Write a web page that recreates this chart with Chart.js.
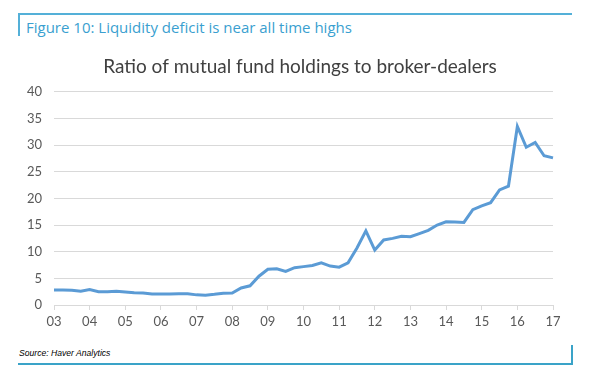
<!DOCTYPE html>
<html>
<head>
<meta charset="utf-8">
<script src="https://cdn.jsdelivr.net/npm/chart.js@4"></script>
<style>
  body { margin: 0; background: #fff; }
  #page { position: relative; width: 595px; height: 381px; overflow: hidden; background: #fff; }
  #caption { position: absolute; left: 18px; top: 13px; width: 554px; height: 23px;
    border-top: 2px solid #54b0d8; border-left: 2px solid #54b0d8; box-sizing: border-box; }
  #caption span { position: absolute; left: 6px; top: 2px; font: 15px "Open Sans", Arial, sans-serif; color: #3a9fd0; white-space: nowrap; }
  #source { position: absolute; left: 18px; top: 345px; width: 555px; height: 20px;
    border-bottom: 2px solid #3aa3c8; border-right: 2px solid #3aa3c8; box-sizing: border-box; }
  #source span { position: absolute; left: 1px; top: 3px; font: italic 8.6px "Liberation Sans", Arial, sans-serif; color: #000; white-space: nowrap; }
  #wrap { position: absolute; left: 0; top: 40px; width: 595px; height: 300px; }
</style>
</head>
<body>
<div id="page">
  <div id="caption"><span>Figure 10: Liquidity deficit is near all time highs</span></div>
  <div id="wrap"><canvas id="grafica"></canvas></div>
  <div id="source"><span>Source: Haver Analytics</span></div>
</div>
<script>
// years on the axis (2003 .. 2017), quarterly observations
const years = ['03', '04', '05', '06', '07', '08', '09', '10', '11', '12', '13', '14', '15', '16', '17'];
const ratio = [
  2.8, 2.8, 2.75, 2.6,
  2.9, 2.5, 2.5, 2.6,
  2.45, 2.3, 2.25, 2.05,
  2.05, 2.05, 2.1, 2.1,
  1.9, 1.85, 2.0, 2.2,
  2.25, 3.2, 3.6, 5.4,
  6.7, 6.8, 6.3, 7.0,
  7.2, 7.4, 7.9, 7.3,
  7.1, 7.9, 10.7, 13.9,
  10.3, 12.2, 12.5, 12.9,
  12.8, 13.4, 14.0, 15.0,
  15.6, 15.55, 15.5, 17.9,
  18.6, 19.2, 21.6, 22.3,
  33.5, 29.6, 30.5, 28.0,
  27.6
];
const yTicks = [0, 5, 10, 15, 20, 25, 30, 35, 40];

let labels = [];
years.forEach((y, i) => {
  const q = i === years.length - 1 ? 1 : 4;
  for (let k = 1; k <= q; k++) labels.push(y + ' Q' + k);
});

const fontFam = 'Lato, "Open Sans", sans-serif';

let ctx = document.getElementById('grafica').getContext('2d');
let grafica = new Chart(ctx, {
  type: 'line',
  data: {
    labels: labels,
    datasets: [{
      label: 'Ratio',
      data: ratio,
      borderColor: '#5b9bd5',
      borderWidth: 3,
      pointRadius: 0,
      tension: 0,
      fill: false
    }]
  },
  options: {
    responsive: true,
    maintainAspectRatio: false,
    animation: false,
    layout: { padding: { left: 5, right: 0, top: 0, bottom: 0 } },
    plugins: {
      legend: { display: false },
      tooltip: { enabled: false },
      title: {
        display: true,
        text: 'Ratio of mutual fund holdings to broker-dealers',
        color: '#404040',
        font: { family: fontFam, size: 19, weight: 'normal' },
        padding: { top: 15, bottom: 14 }
      }
    },
    scales: {
      x: {
        offset: false,
        border: { display: true, color: '#d9d9d9' },
        grid: {
          drawOnChartArea: false,
          drawTicks: true,
          tickLength: 5,
          color: c => (c.index % 4 === 0 ? '#d9d9d9' : 'rgba(0,0,0,0)')
        },
        ticks: {
          autoSkip: false,
          maxRotation: 0,
          padding: 4,
          color: '#595959',
          font: { family: fontFam, size: 13 },
          callback: function (v, i) { return i % 4 === 0 ? years[i / 4] : ''; }
        },
        afterFit: s => { s.height = 35; }
      },
      y: {
        min: 0,
        max: 40,
        border: { display: false },
        grid: { color: '#d9d9d9', drawTicks: false },
        afterBuildTicks: s => { s.ticks = yTicks.map(v => ({ value: v })); },
        ticks: {
          padding: 12,
          color: '#595959',
          font: { family: fontFam, size: 13 }
        },
        afterFit: s => { s.width = 49; }
      },
      // empty right-hand box: keeps the plot right edge at ~553px while the title stays centred on the page
      yRight: {
        position: 'right',
        min: 0,
        max: 40,
        border: { display: false },
        grid: { drawOnChartArea: false, drawTicks: false },
        ticks: { display: false },
        afterFit: s => { s.width = 42; }
      }
    }
  }
});
</script>
</body>
</html>
